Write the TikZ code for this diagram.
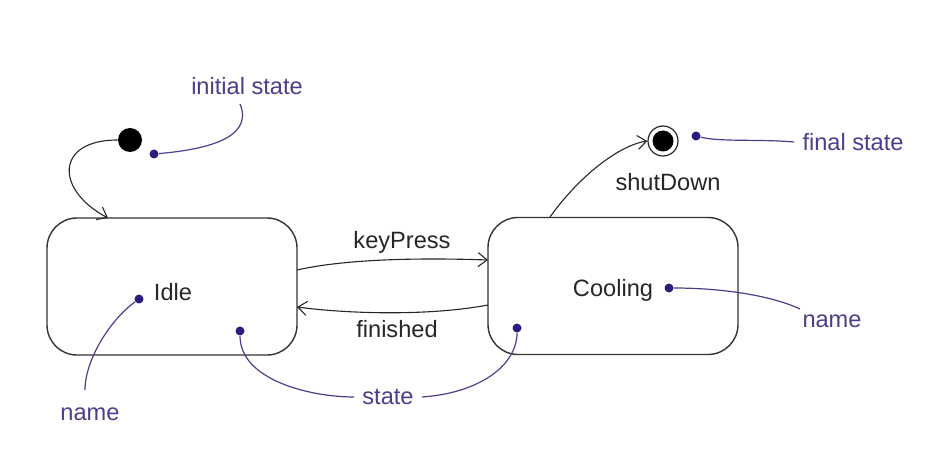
\documentclass[tikz,border=0pt]{standalone}
\usepackage{fontspec}
\setmainfont{Liberation Sans}
\usetikzlibrary{arrows.meta}
\definecolor{annot}{HTML}{4A3F8C}
\definecolor{annotdot}{HTML}{2B1D80}
\definecolor{annottext}{HTML}{4A3F8A}
\begin{document}
\begin{tikzpicture}[x=0.5pt,y=-0.5pt,
  font=\fontsize{11.8}{14}\selectfont,
  statebox/.style={draw=black!80, line width=0.7pt, rounded corners=15pt, minimum width=125pt, minimum height=68.5pt},
  trans/.style={draw=black!85, line width=0.55pt, -{Straight Barb[length=4.5pt,width=7pt]}},
  lbl/.style={text=black!85, inner sep=1pt},
  atext/.style={text=annottext, inner sep=4pt},
  aline/.style={draw=annot, line width=0.6pt},
  adot/.style={circle, fill=annotdot, inner sep=0pt, minimum size=4.5pt}]
\path[use as bounding box] (0,0) rectangle (929,459);

% states
\node[statebox] (idle) at (172,286.5) {};
\node[statebox] (cool) at (613,286) {};
\node[lbl] (idlet) at (173,292) {Idle};
\node[lbl] (coolt) at (613,290) {Cooling};

% initial and final
\node[circle, fill=black, inner sep=0pt, minimum size=12pt] (init) at (130,140) {};
\node[circle, draw=black!85, line width=0.6pt, fill=white, inner sep=0pt, minimum size=15pt] (fin) at (663,141) {};
\node[circle, fill=black, inner sep=0pt, minimum size=10.5pt] (finin) at (663,141) {};
\node[lbl] (shut) at (668,182) {shutDown};

% transitions
\coordinate (idleIn) at (108,218);
\draw[trans] (init.west) .. controls (55,140) and (55,190) .. (idleIn);
\coordinate (coolOut) at (550,217);
\draw[trans] (coolOut) .. controls (580,175) and (620,145) .. (fin.west);
\coordinate (kpA) at (297,270);
\coordinate (kpB) at (488,260);
\draw[trans] (kpA) .. controls (350,258) and (430,258) .. (kpB);
\node[lbl] (kp) at (402,242) {keyPress};
\coordinate (fnA) at (488,305);
\coordinate (fnB) at (297,307);
\draw[trans] (fnA) .. controls (430,316) and (350,314) .. (fnB);
\node[lbl] (fn) at (397,329) {finished};

% annotations
\node[atext] (initt) at (247,86) {initial state};
\node[adot] (d1) at (154,154) {};
\draw[aline] (d1) .. controls (200,150) and (255,140) .. (240,104);

\node[atext] (fint) at (853,142) {final state};
\node[adot] (d2) at (696,136) {};
\draw[aline] (d2) .. controls (720,142) and (760,139) .. (fint.west);

\node[atext] (name1) at (90,414) {name};
\node[adot] (d3) at (139,299) {};
\draw[aline] (d3) .. controls (110,320) and (85,360) .. (85,390);

\node[atext] (name2) at (832,321) {name};
\node[adot] (d4) at (669,288) {};
\draw[aline] (d4) .. controls (720,288) and (770,295) .. (800,309);

\node[atext] (st) at (388,397) {state};
\node[adot] (d5) at (240,331) {};
\node[adot] (d6) at (517,328) {};
\draw[aline] (d5) .. controls (240,380) and (310,397) .. (st.west);
\draw[aline] (st.east) .. controls (480,393) and (517,365) .. (d6);
\end{tikzpicture}
\end{document}
